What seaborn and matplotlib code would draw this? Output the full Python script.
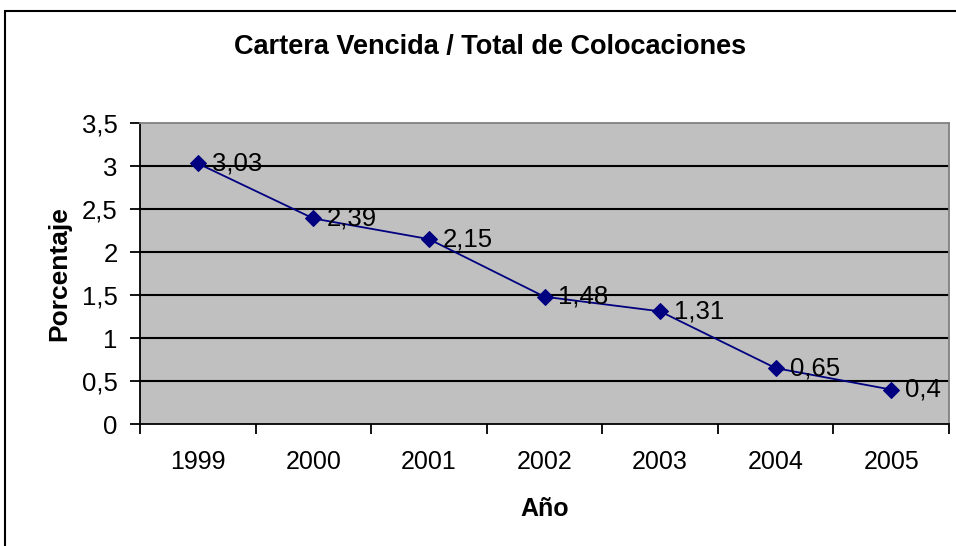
import matplotlib
matplotlib.use("Agg")
import matplotlib.pyplot as plt
import seaborn as sns
import pandas as pd
from matplotlib.patches import Rectangle
from matplotlib.ticker import FixedLocator, NullFormatter

years = ["1999", "2000", "2001", "2002", "2003", "2004", "2005"]
values = [3.03, 2.39, 2.15, 1.48, 1.31, 0.65, 0.40]
value_labels = ["3,03", "2,39", "2,15", "1,48", "1,31", "0,65", "0,4"]
y_ticks = [0, 0.5, 1, 1.5, 2, 2.5, 3, 3.5]
y_tick_labels = ["0", "0,5", "1", "1,5", "2", "2,5", "3", "3,5"]

sns.set_theme(style="white")
plt.rcParams["font.family"] = ["Liberation Sans", "DejaVu Sans"]
plt.rcParams["text.color"] = "black"
plt.rcParams["axes.labelcolor"] = "black"
plt.rcParams["xtick.color"] = "black"
plt.rcParams["ytick.color"] = "black"

df = pd.DataFrame({"Año": years, "Porcentaje": values})

fig = plt.figure(figsize=(9.56, 5.46), dpi=100)
fig.patch.set_facecolor("white")
ax = fig.add_axes([140/956, 1-424/546, (949-140)/956, (424-123)/546])
ax.set_facecolor("#C0C0C0")

# y grid
for t in y_ticks[1:-1]:
    ax.axhline(t, color="black", lw=1.5, zorder=1)

sns.lineplot(data=df, x="Año", y="Porcentaje", ax=ax, color="#000080",
             lw=1.3, marker="D", markersize=8, markeredgecolor="#000080",
             sort=False, zorder=3)

for i, (v, lab) in enumerate(zip(values, value_labels)):
    ax.annotate(lab, (i, v), xytext=(10, 0), textcoords="offset points",
                ha="left", va="center", fontsize=18.5, color="black", zorder=4)

ax.set_xlim(-0.5, len(years) - 0.5)
ax.set_ylim(0, 3.5)
ax.set_yticks(y_ticks)
ax.set_yticklabels(y_tick_labels, fontsize=18.5)
ax.xaxis.set_major_locator(FixedLocator([i - 0.5 for i in range(len(years) + 1)]))
ax.xaxis.set_major_formatter(NullFormatter())
ax.xaxis.set_minor_locator(FixedLocator(list(range(len(years)))))
ax.set_xticklabels(years, minor=True, fontsize=18)
ax.tick_params(axis="x", which="major", length=7, width=1.3, color="black", direction="out", bottom=True)
ax.tick_params(axis="x", which="minor", length=0, pad=19)
ax.tick_params(axis="y", length=7, width=1.3, color="black", direction="out", left=True, pad=9)

for s in ["top", "right"]:
    ax.spines[s].set_color("#808080")
    ax.spines[s].set_linewidth(1.3)
for s in ["left", "bottom"]:
    ax.spines[s].set_color("black")
    ax.spines[s].set_linewidth(1.3)

ax.set_xlabel("Año", fontsize=18, fontweight="bold", labelpad=16)
ax.set_ylabel("Porcentaje", fontsize=19, fontweight="bold", labelpad=8)

fig.text(490/956, 1-47/546, "Cartera Vencida / Total de Colocaciones",
         ha="center", va="center", fontsize=19.5, fontweight="bold")

fig.patches.append(Rectangle((5/956, -0.05), 1.1, (546-11)/546 + 0.05,
                             transform=fig.transFigure, fill=False,
                             edgecolor="black", lw=1.5))

fig.savefig("out.png", dpi=100)
